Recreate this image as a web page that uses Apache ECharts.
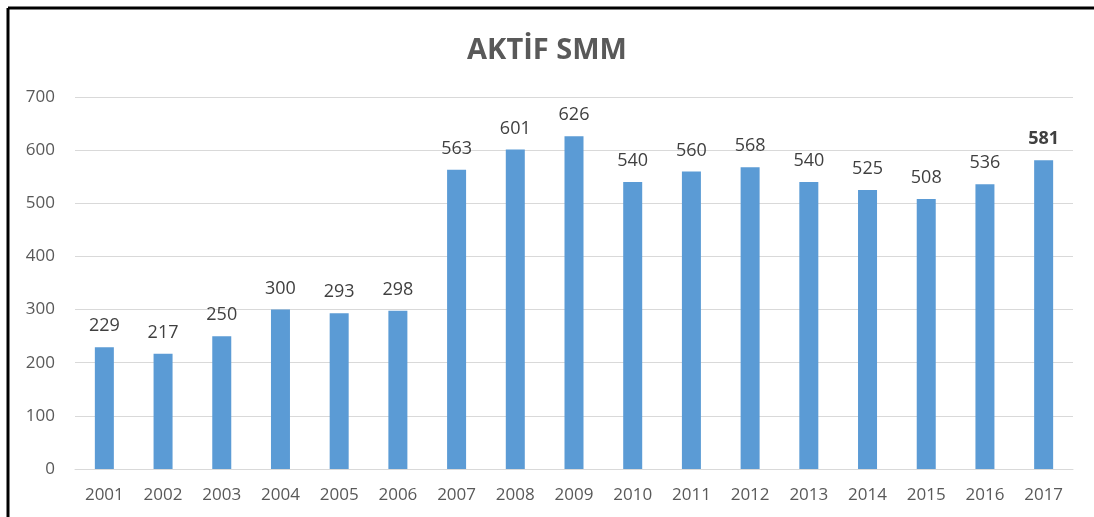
<!DOCTYPE html>
<html>
<head>
<meta charset="utf-8">
<script src="https://cdn.jsdelivr.net/npm/echarts@6/dist/echarts.min.js"></script>
<style>
  html, body { margin: 0; padding: 0; background: #fff; }
  #chart { width: 1094px; height: 517px; }
</style>
</head>
<body>
<div id="chart"></div>
<script>
// veriler
const years = ['2001', '2002', '2003', '2004', '2005', '2006', '2007', '2008', '2009',
  '2010', '2011', '2012', '2013', '2014', '2015', '2016', '2017']
const aktifSmm = [229, 217, 250, 300, 293, 298, 563, 601, 626, 540, 560, 568, 540, 525, 508, 536, 581]
const yTicks = [0, 100, 200, 300, 400, 500, 600, 700]

const font = 'Open Sans'
const chart = echarts.init(document.getElementById('chart'))

// son yil etiketi kalin
const barData = aktifSmm.map((v, i) => {
  if (i === aktifSmm.length - 1) {
    return { value: v, label: { fontWeight: 'bold' } }
  }
  return v
})

const option = {
  animation: false,
  title: {
    text: 'AKTİF SMM',
    left: 'center',
    top: 31,
    textStyle: { fontFamily: font, fontSize: 29, fontWeight: 'bold', color: '#595959' }
  },
  grid: { left: 75, right: 21, top: 97, bottom: 48 },
  xAxis: {
    type: 'category',
    data: years,
    axisLine: { lineStyle: { color: '#d9d9d9' } },
    axisTick: { show: false },
    axisLabel: { fontFamily: font, fontSize: 17, color: '#595959', margin: 18 }
  },
  yAxis: {
    type: 'value',
    min: yTicks[0],
    max: yTicks[yTicks.length - 1],
    interval: 100,
    axisLine: { show: false },
    axisTick: { show: false },
    axisLabel: { fontFamily: font, fontSize: 17, color: '#595959', margin: 20 },
    splitLine: { lineStyle: { color: '#d9d9d9' } }
  },
  series: [{
    type: 'bar',
    data: barData,
    barWidth: 19,
    itemStyle: { color: '#5b9bd5' },
    label: {
      show: true,
      position: 'top',
      distance: 12,
      fontFamily: font,
      fontSize: 18,
      color: '#404040'
    }
  }],
  graphic: [
    { type: 'line', shape: { x1: 8, y1: 8, x2: 1094, y2: 8 }, style: { stroke: '#000', lineWidth: 3 } },
    { type: 'line', shape: { x1: 8, y1: 8, x2: 8, y2: 517 }, style: { stroke: '#000', lineWidth: 3 } }
  ]
}
chart.setOption(option)
</script>
</body>
</html>
